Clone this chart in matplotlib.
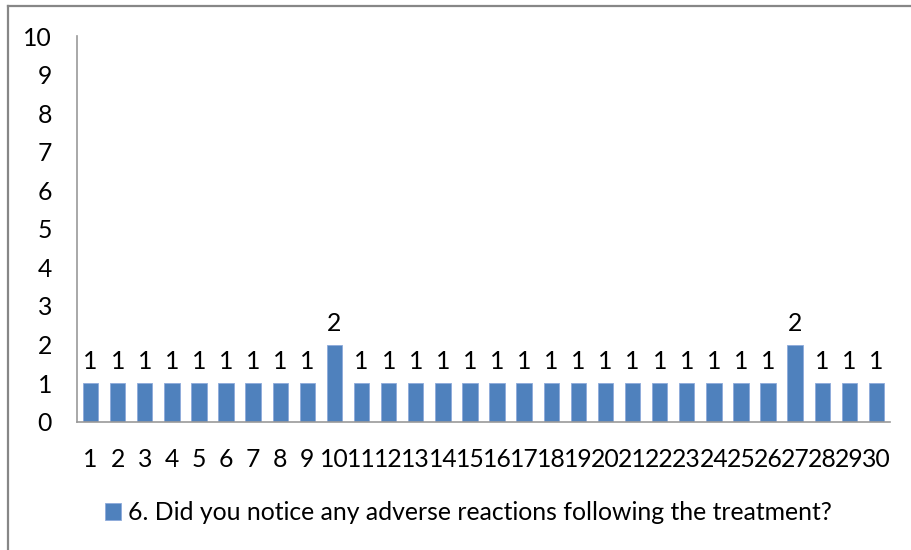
import matplotlib.pyplot as plt
from matplotlib.lines import Line2D

respondents = [str(i) for i in range(1, 31)]
answers = [1, 1, 1, 1, 1, 1, 1, 1, 1, 2, 1, 1, 1, 1, 1, 1, 1, 1, 1, 1,
           1, 1, 1, 1, 1, 1, 2, 1, 1, 1]
series_name = '6. Did you notice any adverse reactions following the treatment?'

plt.rcParams['font.family'] = ['Lato', 'DejaVu Sans']
fs = 17.8

fig = plt.figure(figsize=(9.11, 5.5), dpi=100)
ax = fig.add_axes([77 / 911, 1 - 421.7 / 550, (890 - 77) / 911, (421.7 - 36) / 550])

x = range(len(respondents))
bars = ax.bar(x, answers, width=0.57, color='#4F81BD', edgecolor='#8EAADB',
              linewidth=0.6, label=series_name)
for xi, v in zip(x, answers):
    ax.annotate(str(v), (xi, v), xytext=(0, 7), textcoords='offset points',
                ha='center', va='bottom', fontsize=fs, color='black')

ax.set_xlim(-0.5, len(respondents) - 0.5)
ax.set_ylim(0, 10)
ax.set_yticks(range(0, 11))
ax.set_xticks(list(x))
ax.set_xticklabels(respondents)
ax.tick_params(axis='both', length=0, labelsize=fs)
ax.tick_params(axis='y', pad=18)
ax.tick_params(axis='x', pad=19)
for s in ['top', 'right']:
    ax.spines[s].set_visible(False)
ax.spines['left'].set_color('#999999')
ax.spines['bottom'].set_color('#999999')
ax.spines['left'].set_linewidth(1.2)
ax.spines['bottom'].set_linewidth(1.2)

leg = fig.legend(handles=[bars], loc='center', bbox_to_anchor=(468 / 911, 1 - 513 / 550),
                 frameon=False, fontsize=fs, handlelength=0.68, handleheight=0.68,
                 handletextpad=0.25)

# chart area border (only top and left edges are visible in the crop)
fig.add_artist(Line2D([8 / 911, 8 / 911], [0, 1 - 5.5 / 550], color='#878787', lw=1.6))
fig.add_artist(Line2D([8 / 911, 1], [1 - 5.5 / 550, 1 - 5.5 / 550], color='#878787', lw=1.6))

fig.savefig('out.png', dpi=100)
